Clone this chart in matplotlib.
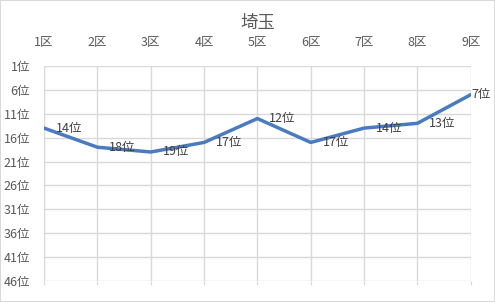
import numpy as np
import matplotlib.pyplot as plt

plt.rcParams['font.family'] = ['Noto Sans CJK JP', 'DejaVu Sans']

title = '埼玉'
districts = ['1区', '2区', '3区', '4区', '5区', '6区', '7区', '8区', '9区']
ranks = [14, 18, 19, 17, 12, 17, 14, 13, 7]
ytick_vals = [1, 6, 11, 16, 21, 26, 31, 36, 41, 46]

grid_c = '#D9D9D9'
text_c = '#595959'

fig = plt.figure(figsize=(4.95, 3.02), dpi=100, edgecolor=grid_c, linewidth=1.2)
ax = fig.add_axes([0.089, 0.0695, 0.862, 0.712])

x = np.arange(len(districts))
ax.plot(x, ranks, color='#4A7BC0', linewidth=2.5, solid_capstyle='round')

for i, r in enumerate(ranks):
    dx = 1 if i == len(ranks) - 1 else 12
    ax.annotate(f'{r}位', (x[i], r), xytext=(dx, 0), textcoords='offset pixels',
                ha='left', va='center', fontsize=9, color='#404040')

ax.set_xlim(x[0], x[-1])
ax.set_ylim(46, 1)
ax.set_xticks(x)
ax.set_xticklabels(districts)
ax.set_yticks(ytick_vals)
ax.set_yticklabels([f'{v}位' for v in ytick_vals])

ax.xaxis.tick_top()
ax.tick_params(axis='x', which='both', top=False, bottom=True, labeltop=True,
               labelbottom=False, length=3, color=grid_c, labelsize=9,
               labelcolor=text_c, pad=9)
ax.tick_params(axis='y', length=0, labelsize=9, labelcolor=text_c, pad=10)

ax.grid(True, color=grid_c, linewidth=1)
ax.set_axisbelow(True)
for s in ax.spines.values():
    s.set_visible(False)

fig.text(0.52, 0.925, title, ha='center', va='center', fontsize=12.5, color=text_c)

fig.savefig('out.png', dpi=100)
